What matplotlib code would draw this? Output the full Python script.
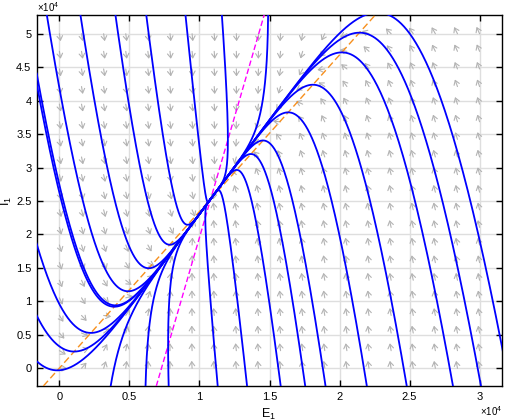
import numpy as np
import matplotlib
matplotlib.use("Agg")
import matplotlib.pyplot as plt
from matplotlib.ticker import FuncFormatter

# linear E-I system
E_STAR = 10800.0          # fixed point
I_STAR = 25300.0
SLOPE_E_NULL = 7.2        # dE/dt = 0 line (magenta)
SLOPE_I_NULL = 2.34       # dI/dt = 0 line (orange)
RATE_E = 1.0
RATE_I = 26.0

# one point on each trajectory (edge entries and visible minima)
start_E = [-900, 1500, 4000, 6200, 9000, 11600, 14900,
           -1600,
           0, 1000, 2100, 3900,
           3660, 6150, 7800, 11300, 13400, 15800, 17550, 19000,
           21950, 24800, 28100, 30100,
           31600]
start_I = [52800, 52800, 52800, 52800, 52800, 52800, 52800,
           43800,
           -300, 2500, 5300, 9200,
           -2650, -2650, -2650, -2650, -2650, -2650, -2650, -2650,
           -2650, -2650, -2650, -2650,
           3200]

x_ticks = [0, 5000, 10000, 15000, 20000, 25000, 30000]
y_ticks = [0, 5000, 10000, 15000, 20000, 25000, 30000, 35000, 40000, 45000, 50000]
x_lim = (-1600, 31600)
y_lim = (-2650, 52800)

A = np.array([[-RATE_E * SLOPE_E_NULL, RATE_E],
              [RATE_I * SLOPE_I_NULL, -RATE_I]])
lam, V = np.linalg.eig(A)
V_inv = np.linalg.inv(V)
t = np.linspace(-0.3, 3, 6000)


def trajectory(e0, i0):
    c = V_inv @ np.array([e0 - E_STAR, i0 - I_STAR])
    x = V @ (c[:, None] * np.exp(np.outer(lam, t)))
    return x[0].real + E_STAR, x[1].real + I_STAR


plt.rcParams["font.family"] = ["Liberation Sans", "DejaVu Sans"]
fig = plt.figure(figsize=(5.14, 4.2), dpi=100)
ax = fig.add_axes([37 / 514, 1 - 386 / 420, 465 / 514, 371 / 420])
ax.set_xlim(*x_lim)
ax.set_ylim(*y_lim)

ax.set_xticks(x_ticks)
ax.set_yticks(y_ticks)
fmt = FuncFormatter(lambda v, pos: f"{v / 1e4:g}")
ax.xaxis.set_major_formatter(fmt)
ax.yaxis.set_major_formatter(fmt)
ax.tick_params(direction="in", length=4, width=1, labelsize=8,
               top=True, right=True, pad=4)
ax.grid(True, color="0.87", lw=1)
ax.set_axisbelow(True)
for s in ax.spines.values():
    s.set_linewidth(1)

# direction field, arrows of equal on-screen length
arrow_E = np.linspace(0, 30000, 20)
arrow_I = np.linspace(0, 50000, 20)
EE, II = np.meshgrid(arrow_E, arrow_I)
U = A[0, 0] * (EE - E_STAR) + A[0, 1] * (II - I_STAR)
W = A[1, 0] * (EE - E_STAR) + A[1, 1] * (II - I_STAR)
sx = ax.bbox.width / (x_lim[1] - x_lim[0])
sy = ax.bbox.height / (y_lim[1] - y_lim[0])
L = 7.5
for e, i, u, w in zip(EE.ravel(), II.ravel(), U.ravel(), W.ravel()):
    px, py = u * sx, w * sy
    n = np.hypot(px, py)
    if n == 0:
        continue
    de, di = L * px / n / sx, L * py / n / sy
    ax.annotate("", xy=(e + de, i + di), xytext=(e, i),
                arrowprops=dict(arrowstyle="->,head_length=0.3,head_width=0.2",
                                color="0.7", lw=0.8, shrinkA=0, shrinkB=0),
                zorder=2)

# nullclines
ax.axline((E_STAR, I_STAR), slope=SLOPE_E_NULL, color="#ff00ff", lw=1,
          dashes=(4, 2), zorder=3)
ax.axline((E_STAR, I_STAR), slope=SLOPE_I_NULL, color="#f7901e", lw=1,
          dashes=(5, 2.5), zorder=3)

for e0, i0 in zip(start_E, start_I):
    ex, ix = trajectory(e0, i0)
    ax.plot(ex, ix, color="#0000ff", lw=1.3, zorder=4)

ax.set_xlabel("E$_\\mathregular{1}$", fontsize=9)
ax.xaxis.set_label_coords(0.497, -0.055)
ax.set_ylabel("I$_\\mathregular{1}$", fontsize=9)
ax.yaxis.set_label_coords(-0.05, 0.5)
ax.text(0.0, 1.004, "×10$^\\mathregular{4}$", transform=ax.transAxes,
        fontsize=7, ha="left", va="bottom")
ax.text(1.0, -0.048, "×10$^\\mathregular{4}$", transform=ax.transAxes,
        fontsize=7, ha="right", va="top")

fig.savefig("out.png", dpi=100)
